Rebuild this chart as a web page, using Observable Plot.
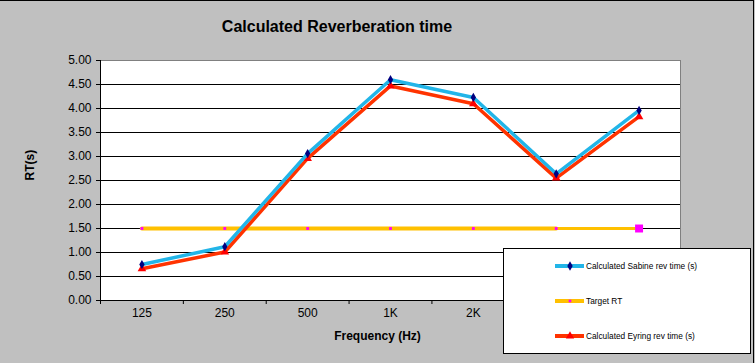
<!DOCTYPE html>
<html>
<head>
<meta charset="utf-8">
<script src="https://cdn.jsdelivr.net/npm/d3@7"></script>
<script src="https://cdn.jsdelivr.net/npm/@observablehq/plot@0.6"></script>
<style>
  body { margin: 0; }
  #wrap { position: relative; width: 755px; height: 363px; background: #C0C0C0; overflow: hidden;
          font-family: "Liberation Sans", Arial, sans-serif; }
  #chart { position: absolute; left: 0; top: 0; }
  #title { position: absolute; left: 0; width: 674px; top: 18px; text-align: center;
           font-weight: bold; font-size: 16px; }
  #legend { position: absolute; left: 503px; top: 248px; width: 246px; height: 104px;
            background: white; border: 1.5px solid black; }
  #border { position: absolute; left: 0; top: 0; width: 753px; height: 363px;
            border-top: 1px solid black; border-right: 1.5px solid black; pointer-events: none; }
</style>
</head>
<body>
<div id="wrap">
  <div id="chart"></div>
  <div id="title"></div>
  <div id="legend"></div>
  <div id="border"></div>
</div>
<script>
const titleText = "Calculated Reverberation time";
const xLabel = "Frequency (Hz)";
const yLabel = "RT(s)";
const categories = ["125", "250", "500", "1K", "2K", "4K", "8K"];
const sabine = [0.75, 1.12, 3.06, 4.60, 4.23, 2.64, 3.96];
const eyring = [0.66, 1.01, 2.96, 4.47, 4.10, 2.55, 3.83];
const target = [1.5, 1.5, 1.5, 1.5, 1.5, 1.5, 1.5];
const yTicks = [0, 0.5, 1, 1.5, 2, 2.5, 3, 3.5, 4, 4.5, 5];
const seriesNames = ["Calculated Sabine rev time (s)", "Target RT", "Calculated Eyring rev time (s)"];

const colSabine = "#22B5E8", mkSabine = "#000080";
const colTarget = "#FFC000", mkTarget = "#FF00FF";
const colEyring = "#FF3300", mkEyring = "#FF0000";

const rows = (vals) => categories.map((c, i) => ({cat: c, x: i + 0.5, y: vals[i]}));
const dSab = rows(sabine), dEyr = rows(eyring), dTgt = rows(target);
const n = categories.length;

const font = '"Liberation Sans", Arial, sans-serif';

const plot = Plot.plot({
  width: 755, height: 363,
  marginLeft: 100, marginRight: 75, marginTop: 60, marginBottom: 63,
  style: {background: "transparent", fontFamily: font, fontSize: "12px", color: "black"},
  x: {domain: [0, n]},
  y: {domain: [0, 5]},
  marks: [
    Plot.frame({fill: "white", stroke: "#808080"}),
    Plot.ruleY(yTicks.filter(d => d > 0 && d < 5), {stroke: "black", strokeWidth: 1}),
    Plot.ruleX([0], {stroke: "black"}),
    Plot.ruleY([0], {stroke: "black"}),
    Plot.axisY({ticks: yTicks, tickFormat: d => d.toFixed(2), tickSize: 4, tickPadding: 5, label: null, stroke: "black"}),
    Plot.axisX({ticks: d3.range(0, n + 1), tickFormat: () => "", tickSize: 4, label: null, stroke: "black"}),
    Plot.axisX({ticks: categories.map((c, i) => i + 0.5), tickFormat: v => categories[Math.floor(v)], tickSize: 0, tickPadding: 8, label: null}),
    Plot.text([yLabel], {frameAnchor: "left", dx: -70, rotate: -90, fontWeight: "bold", fontSize: 12}),
    Plot.text([xLabel], {frameAnchor: "bottom", dx: -13, dy: 39, fontWeight: "bold", fontSize: 12}),
    // Target RT
    Plot.line(dTgt.slice(0, n - 1), {x: "x", y: "y", stroke: colTarget, strokeWidth: 4}),
    Plot.line(dTgt.slice(n - 2), {x: "x", y: "y", stroke: colTarget, strokeWidth: 3}),
    Plot.dot(dTgt.slice(0, n - 1), {x: "x", y: "y", symbol: "square", r: 1.6, fill: mkTarget}),
    Plot.dot(dTgt.slice(n - 1), {x: "x", y: "y", symbol: "square", r: 4.5, fill: mkTarget}),
    // Eyring
    Plot.line(dEyr, {x: "x", y: "y", stroke: colEyring, strokeWidth: 3.5}),
    Plot.dot(dEyr, {x: "x", y: "y", symbol: "triangle", r: 3.2, fill: mkEyring}),
    // Sabine
    Plot.line(dSab, {x: "x", y: "y", stroke: colSabine, strokeWidth: 3.5}),
    Plot.dot(dSab, {x: "x", y: "y", symbol: "diamond", r: 2.8, fill: mkSabine})
  ]
});
document.getElementById("chart").appendChild(plot);
document.getElementById("title").textContent = titleText;

// Legend
const legend = document.getElementById("legend");
const lsvg = d3.select(legend).append("svg").attr("width", 246).attr("height", 104)
  .style("position", "absolute").style("left", "0px").style("top", "0px");
const items = [
  {name: seriesNames[0], col: colSabine, mk: mkSabine, sym: d3.symbolDiamond, size: 25},
  {name: seriesNames[1], col: colTarget, mk: mkTarget, sym: d3.symbolSquare, size: 7},
  {name: seriesNames[2], col: colEyring, mk: mkEyring, sym: d3.symbolTriangle, size: 30}
];
const rowY = [17, 52, 87];
items.forEach((it, i) => {
  const g = lsvg.append("g").attr("transform", `translate(0,${rowY[i]})`);
  g.append("line").attr("x1", 51).attr("x2", 80).attr("y1", 0).attr("y2", 0)
    .attr("stroke", it.col).attr("stroke-width", 4);
  g.append("path").attr("d", d3.symbol(it.sym, it.size)()).attr("transform", "translate(66,0)").attr("fill", it.mk);
  g.append("text").attr("x", 82).attr("y", 0).attr("dy", "0.35em")
    .attr("font-size", 8.3).attr("font-family", font).text(it.name);
});
</script>
</body>
</html>
